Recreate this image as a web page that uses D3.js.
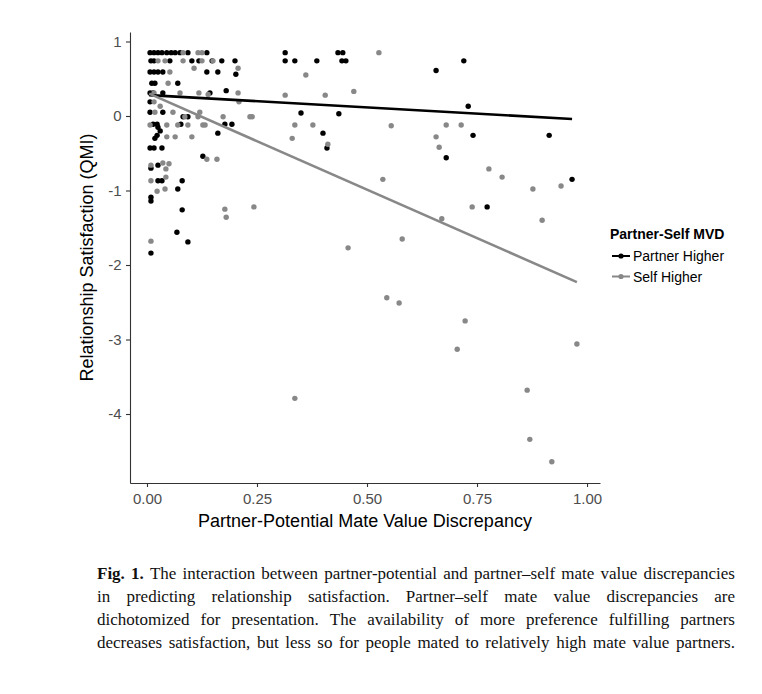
<!DOCTYPE html>
<html>
<head>
<meta charset="utf-8">
<script src="https://cdn.jsdelivr.net/npm/d3@7"></script>
<style>
  body { margin: 0; background: #fff; }
  svg { display: block; }
</style>
</head>
<body>
<svg id="chart" width="762" height="694"></svg>
<script>
// data: [partner-potential MVD, QMI]
const partnerHigher = [
  [0.007,0.85],[0.016,0.85],[0.025,0.85],[0.034,0.85],[0.045,0.85],[0.055,0.85],[0.064,0.85],[0.075,0.85],[0.093,0.85],[0.136,0.85],
  [0.314,0.85],[0.434,0.85],[0.445,0.85],
  [0.009,0.74],[0.016,0.74],[0.052,0.74],[0.102,0.74],[0.118,0.74],[0.148,0.74],[0.170,0.74],[0.200,0.74],
  [0.314,0.74],[0.336,0.74],[0.386,0.74],[0.443,0.74],[0.452,0.74],[0.720,0.74],
  [0.007,0.59],[0.016,0.59],[0.025,0.59],[0.036,0.59],[0.136,0.59],[0.161,0.59],[0.202,0.56],[0.657,0.61],
  [0.011,0.44],[0.018,0.44],[0.070,0.44],
  [0.180,0.34],[0.007,0.31],[0.014,0.31],[0.036,0.31],[0.143,0.31],
  [0.007,0.19],[0.730,0.13],
  [0.007,0.05],[0.036,0.05],[0.350,0.04],[0.436,0.03],
  [0.082,-0.01],[0.093,-0.01],
  [0.014,-0.11],[0.023,-0.11],[0.077,-0.11],[0.177,-0.11],[0.193,-0.11],
  [0.025,-0.15],[0.030,-0.20],[0.023,-0.26],[0.018,-0.30],
  [0.161,-0.23],[0.400,-0.23],[0.741,-0.26],[0.914,-0.26],
  [0.007,-0.43],[0.016,-0.43],[0.034,-0.43],[0.409,-0.43],
  [0.127,-0.54],[0.680,-0.56],
  [0.025,-0.66],[0.009,-0.70],
  [0.025,-0.87],[0.034,-0.87],[0.080,-0.87],[0.966,-0.85],
  [0.070,-0.98],[0.009,-1.09],[0.009,-1.14],
  [0.773,-1.22],[0.080,-1.26],[0.068,-1.56],[0.093,-1.69],[0.009,-1.84]
];

const selfHigher = [
  [0.082,0.85],[0.116,0.85],[0.125,0.85],[0.527,0.85],
  [0.025,0.74],[0.041,0.74],[0.082,0.74],[0.125,0.74],[0.150,0.74],
  [0.107,0.64],[0.207,0.64],[0.052,0.59],[0.361,0.55],[0.048,0.44],
  [0.016,0.31],[0.075,0.31],[0.118,0.31],[0.139,0.29],[0.207,0.31],
  [0.314,0.28],[0.405,0.28],[0.470,0.33],
  [0.016,0.19],[0.209,0.19],[0.030,0.13],
  [0.018,0.05],[0.059,0.05],[0.120,0.05],
  [0.086,-0.01],[0.116,-0.01],[0.173,-0.01],[0.234,-0.01],[0.239,-0.01],
  [0.007,-0.12],[0.045,-0.12],[0.070,-0.12],[0.093,-0.12],[0.127,-0.12],[0.132,-0.12],
  [0.336,-0.12],[0.377,-0.12],[0.555,-0.13],[0.680,-0.12],[0.714,-0.12],
  [0.045,-0.28],[0.064,-0.28],[0.102,-0.28],[0.330,-0.30],[0.411,-0.38],[0.657,-0.28],[0.664,-0.42],
  [0.136,-0.58],[0.159,-0.58],
  [0.009,-0.66],[0.036,-0.63],[0.050,-0.64],[0.043,-0.71],[0.043,-0.82],[0.009,-0.87],
  [0.023,-1.01],[0.041,-0.98],
  [0.177,-1.25],[0.243,-1.22],[0.180,-1.36],[0.009,-1.68],
  [0.536,-0.85],[0.777,-0.71],[0.807,-0.82],[0.877,-0.98],[0.941,-0.94],
  [0.739,-1.22],[0.670,-1.38],[0.898,-1.40],
  [0.457,-1.77],[0.580,-1.65],[0.545,-2.44],[0.573,-2.51],
  [0.723,-2.75],[0.705,-3.13],[0.977,-3.06],
  [0.864,-3.68],[0.336,-3.79],[0.870,-4.34],[0.920,-4.64]
];

// fitted regression lines (endpoints as drawn)
const fitPartner = [[0.005,0.28],[0.966,-0.04]];
const fitSelf    = [[0.005,0.30],[0.977,-2.23]];

const xTicks = [0, 0.25, 0.5, 0.75, 1];
const yTicks = [1, 0, -1, -2, -3, -4];
const groups = ["Partner Higher", "Self Higher"];
const groupColors = ["#000000", "#888888"];

const captionLines = [
  "Fig. 1. The interaction between partner-potential and partner\u2013self mate value discrepancies",
  "in predicting relationship satisfaction. Partner\u2013self mate value discrepancies are",
  "dichotomized for presentation. The availability of more preference fulfilling partners",
  "decreases satisfaction, but less so for people mated to relatively high mate value partners."
];

const svg = d3.select("#chart");
const panel = { left: 130, right: 600, top: 32, bottom: 483 };

const x = d3.scaleLinear().domain([-0.0386, 1.0295]).range([panel.left, panel.right]);
const y = d3.scaleLinear().domain([1.1275, -4.926]).range([panel.top, panel.bottom]);

const sans = "'Liberation Sans', Arial, Helvetica, sans-serif";
const axisCol = "#333";

// points
const pointsG = svg.append("g");
[partnerHigher, selfHigher].forEach((data, i) => {
  pointsG.selectAll(null)
    .data(data)
    .join("circle")
    .attr("cx", d => x(d[0]))
    .attr("cy", d => y(d[1]))
    .attr("r", 2.7)
    .attr("fill", groupColors[i]);
});

// fit lines
const line = d3.line().x(d => x(d[0])).y(d => y(d[1]));
svg.append("path").attr("d", line(fitPartner)).attr("stroke", groupColors[0])
  .attr("stroke-width", 2.6).attr("fill", "none");
svg.append("path").attr("d", line(fitSelf)).attr("stroke", groupColors[1])
  .attr("stroke-width", 2.6).attr("fill", "none");

// axes (hyphen minus, as in the figure)
const xAxis = svg.append("g")
  .attr("transform", `translate(0,${panel.bottom})`)
  .call(d3.axisBottom(x).tickValues(xTicks).tickFormat(d3.format(".2f")).tickSize(4).tickSizeOuter(0));
const yAxis = svg.append("g")
  .attr("transform", `translate(${panel.left},0)`)
  .call(d3.axisLeft(y).tickValues(yTicks).tickFormat(d => String(d)).tickSize(4).tickSizeOuter(0));

[xAxis, yAxis].forEach(a => {
  a.select(".domain").attr("stroke", axisCol).attr("stroke-width", 1.1);
  a.selectAll(".tick line").attr("stroke", axisCol).attr("stroke-width", 1.1);
  a.selectAll(".tick text").attr("fill", "#4d4d4d").style("font-family", sans).style("font-size", "15px");
});
xAxis.selectAll(".tick text").attr("dy", "0.95em");
yAxis.selectAll(".tick text").attr("dx", "-0.1em");

svg.append("text")
  .attr("x", (panel.left + panel.right) / 2).attr("y", 527)
  .attr("text-anchor", "middle")
  .style("font-family", sans).style("font-size", "18px")
  .text("Partner-Potential Mate Value Discrepancy");

svg.append("text")
  .attr("transform", `translate(93,${(panel.top + panel.bottom) / 2}) rotate(-90)`)
  .attr("text-anchor", "middle")
  .style("font-family", sans).style("font-size", "18px")
  .text("Relationship Satisfaction (QMI)");

// legend
const legend = svg.append("g").attr("transform", "translate(610,0)");
legend.append("text").attr("x", 0).attr("y", 239)
  .style("font-family", sans).style("font-size", "14px").style("font-weight", "bold")
  .text("Partner-Self MVD");
groups.forEach((g, i) => {
  const ky = 256 + i * 20.5;
  legend.append("line").attr("x1", 2).attr("x2", 20).attr("y1", ky).attr("y2", ky)
    .attr("stroke", groupColors[i]).attr("stroke-width", 2);
  legend.append("circle").attr("cx", 11).attr("cy", ky).attr("r", 2.6).attr("fill", groupColors[i]);
  legend.append("text").attr("x", 23).attr("y", ky + 5)
    .style("font-family", sans).style("font-size", "14px")
    .text(g);
});

// caption, justified line by line
const capG = svg.append("g")
  .style("font-family", "'Liberation Serif', 'Times New Roman', serif")
  .style("font-size", "17px").attr("fill", "#111");
const capLeft = 97, capRight = 735;
captionLines.forEach((ln, li) => {
  const words = ln.split(" ");
  const by = 579 + li * 23;
  const nodes = words.map((w, wi) => capG.append("text")
    .attr("y", by)
    .style("font-weight", li === 0 && wi < 2 ? "bold" : "normal")
    .text(w));
  const widths = nodes.map(n => n.node().getComputedTextLength());
  const gap = (capRight - capLeft - d3.sum(widths)) / (words.length - 1);
  let cx = capLeft;
  nodes.forEach((n, wi) => { n.attr("x", cx); cx += widths[wi] + gap; });
});
</script>
</body>
</html>
